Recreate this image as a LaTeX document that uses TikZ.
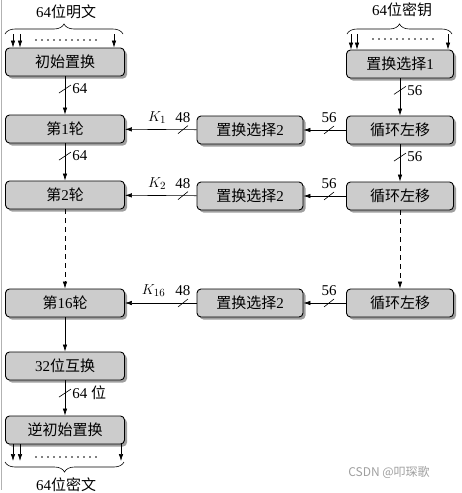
\documentclass[tikz,border=0pt]{standalone}
\usepackage{fontspec}
\setmainfont{Liberation Serif}
\newfontfamily\cjk{Noto Sans CJK SC}
\usetikzlibrary{arrows.meta, shadows, decorations.pathreplacing}

\begin{document}
\begin{tikzpicture}[x=1pt, y=-1pt, >={Latex[length=7pt,width=4.5pt]}, line width=0.6pt,
    font=\fontsize{15}{17}\selectfont]
  \tikzstyle{stage}=[draw, line width=0.9pt, rounded corners=4pt, fill=gray!40,
    minimum height=28pt, inner sep=0pt,
    drop shadow={shadow xshift=2.5pt, shadow yshift=-2.5pt, fill=gray!75, opacity=1}]
  \tikzstyle{wide}=[stage, minimum width=119pt]
  \tikzstyle{narrow}=[stage, minimum width=107pt]
  \tikzstyle{lbl}=[inner sep=1pt]
  \tikzstyle{dots}=[line width=1.8pt, line cap=round, dash pattern=on 0pt off 6pt]
  \useasboundingbox (0,0) rectangle (461,493);
  \draw[gray!60, line width=1pt] (1.5,0) -- (1.5,490);
  % left column
  \node[wide] (init) at (65,62) {{\cjk 初始置换}};
  \node[wide] (rnd1) at (65,129) {{\cjk 第}1{\cjk 轮}};
  \node[wide] (rnd2) at (65,195) {{\cjk 第}2{\cjk 轮}};
  \node[wide] (rnd16) at (65,303) {{\cjk 第}16{\cjk 轮}};
  \node[wide] (swap) at (65,366) {32{\cjk 位互换}};
  \node[wide] (iinit) at (65,430) {{\cjk 逆初始置换}};
  % key schedule
  \node[narrow] (pc1) at (400,64) {{\cjk 置换选择}1};
  \node[narrow] (ls1) at (400,130) {{\cjk 循环左移}};
  \node[narrow] (ls2) at (400,196) {{\cjk 循环左移}};
  \node[narrow] (ls16) at (400,303) {{\cjk 循环左移}};
  \node[stage, minimum width=106pt] (pc2a) at (250,130) {{\cjk 置换选择}2};
  \node[stage, minimum width=106pt] (pc2b) at (250,196) {{\cjk 置换选择}2};
  \node[stage, minimum width=106pt] (pc2c) at (250,303) {{\cjk 置换选择}2};
  % input and output braces
  \node[lbl] (plain) at (66,12) {64{\cjk 位明文}};
  \node[lbl] (key) at (402,10) {64{\cjk 位密钥}};
  \node[lbl] (cipher) at (66,485) {64{\cjk 位密文}};
  \draw[decorate, decoration={brace, amplitude=10pt}] (5,34) -- (123,34);
  \draw[decorate, decoration={brace, amplitude=10pt}] (347,34) -- (452,34);
  \draw[decorate, decoration={brace, amplitude=10pt, mirror}] (5,462) -- (124,462);
  \draw[dots] (36,40) -- (97,40);
  \draw[dots] (373,39) -- (434,39);
  \draw[dots] (36,457) -- (97,457);
  \coordinate (p1) at (13,34); \coordinate (p2) at (20,34); \coordinate (p3) at (114,34);
  \coordinate (k1) at (351,34); \coordinate (k2) at (357,34); \coordinate (k3) at (448,34);
  \coordinate (c1) at (13,461); \coordinate (c2) at (20,461); \coordinate (c3) at (121,461);
  \draw[->] (p1) -- (p1 |- init.north);
  \draw[->] (p2) -- (p2 |- init.north);
  \draw[->] (p3) -- (p3 |- init.north);
  \draw[->] (k1) -- (k1 |- pc1.north);
  \draw[->] (k2) -- (k2 |- pc1.north);
  \draw[->] (k3) -- (k3 |- pc1.north);
  \draw[->] (c1 |- iinit.south) -- (c1);
  \draw[->] (c2 |- iinit.south) -- (c2);
  \draw[->] (c3 |- iinit.south) -- (c3);
  % data path
  \draw[->] (init) -- coordinate[pos=.33] (s1) node[lbl, pos=.33, right=6pt] {64} (rnd1);
  \draw[->] (rnd1) -- coordinate[pos=.34] (s2) node[lbl, pos=.34, right=6pt] {64} (rnd2);
  \draw[->, dash pattern=on 5pt off 4pt] (rnd2) -- (rnd16);
  \draw[->] (rnd16) -- (swap);
  \draw[->] (swap) -- coordinate[pos=.36] (s3) node[lbl, pos=.36, right=6pt] {64 {\cjk 位}} (iinit);
  % key path
  \draw[->] (pc1) -- coordinate[pos=.32] (s4) node[lbl, pos=.32, right=6pt] {56} (ls1);
  \draw[->] (ls1) -- coordinate[pos=.34] (s5) node[lbl, pos=.34, right=6pt] {56} (ls2);
  \draw[->, dash pattern=on 5pt off 4pt] (ls2) -- (ls16);
  \draw[->] (ls1) -- coordinate[pos=.4] (h1) node[lbl, pos=.4, above=6pt] {56} (pc2a);
  \draw[->] (ls2) -- coordinate[pos=.4] (h2) node[lbl, pos=.4, above=6pt] {56} (pc2b);
  \draw[->] (ls16) -- coordinate[pos=.4] (h3) node[lbl, pos=.4, above=6pt] {56} (pc2c);
  \draw[->] (pc2a) -- coordinate[pos=.19] (g1) node[lbl, pos=.19, above=6pt] {48}
    node[lbl, pos=.55, above=5pt] {$K_1$} (rnd1);
  \draw[->] (pc2b) -- coordinate[pos=.19] (g2) node[lbl, pos=.19, above=6pt] {48}
    node[lbl, pos=.55, above=5pt] {$K_2$} (rnd2);
  \draw[->] (pc2c) -- coordinate[pos=.19] (g3) node[lbl, pos=.19, above=6pt] {48}
    node[lbl, pos=.6, above=5pt] {$K_{16}$} (rnd16);
  % width marks
  \draw ([shift={(-6,4)}]s1) -- ([shift={(6,-4)}]s1);
  \draw ([shift={(-6,4)}]s2) -- ([shift={(6,-4)}]s2);
  \draw ([shift={(-6,4)}]s3) -- ([shift={(6,-4)}]s3);
  \draw ([shift={(-6,4)}]s4) -- ([shift={(6,-4)}]s4);
  \draw ([shift={(-6,4)}]s5) -- ([shift={(6,-4)}]s5);
  \draw ([shift={(-5,4)}]h1) -- ([shift={(5,-4)}]h1);
  \draw ([shift={(-5,4)}]h2) -- ([shift={(5,-4)}]h2);
  \draw ([shift={(-5,4)}]h3) -- ([shift={(5,-4)}]h3);
  \draw ([shift={(-5,4)}]g1) -- ([shift={(5,-4)}]g1);
  \draw ([shift={(-5,4)}]g2) -- ([shift={(5,-4)}]g2);
  \draw ([shift={(-5,4)}]g3) -- ([shift={(5,-4)}]g3);
  \node[text=gray!75, font=\fontsize{12}{14}\selectfont\cjk] (mark) at (389,472) {CSDN @叩琛歌};
\end{tikzpicture}
\end{document}
